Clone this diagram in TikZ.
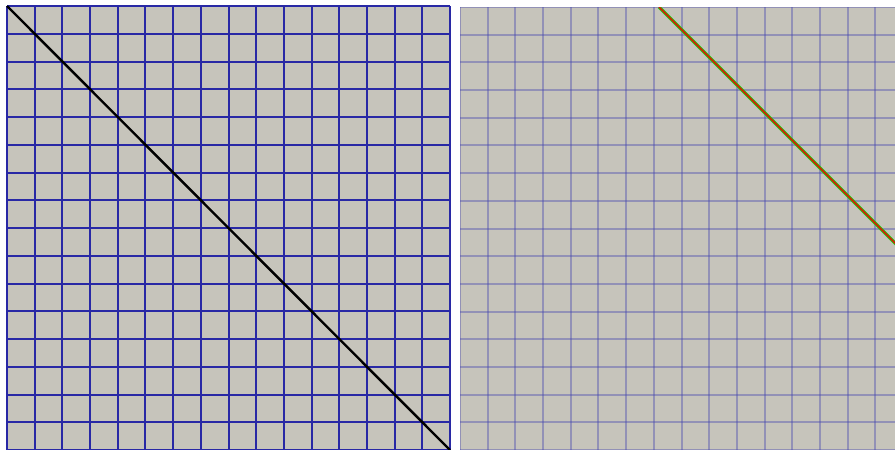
\documentclass[tikz,border=0pt]{standalone}
\definecolor{panelgray}{RGB}{198,196,187}
\definecolor{gridblue}{RGB}{40,40,165}
\definecolor{softblue}{RGB}{70,70,175}
\definecolor{linegreen}{RGB}{40,200,20}
\definecolor{linered}{RGB}{210,30,0}
\tikzset{
  leftgrid/.style={draw=gridblue,line width=1.5pt},
  rightgrid/.style={draw=softblue,line width=1.6pt,opacity=0.4},
  blackdiag/.style={draw=black,line width=2.4pt},
}
\begin{document}
\begin{tikzpicture}[x=1pt,y=-1pt]
\useasboundingbox (0,0) rectangle (895,450);
\fill[white] (0,0) rectangle (895,450);
% left panel
\fill[panelgray] (7,6) rectangle (450,450);
\foreach \i in {0,...,16} {
  \pgfmathsetmacro{\gx}{round(7+\i*27.6875)}
  \pgfmathsetmacro{\gy}{round(6+\i*27.75)}
  \draw[leftgrid] (\gx,6) -- (\gx,450);
  \draw[leftgrid] (7,\gy) -- (450,\gy);
}
\coordinate (la) at (7,6);
\coordinate (lb) at (450,450);
\draw[blackdiag] (la) -- (lb);
% right panel
\begin{scope}
\clip (460,7) rectangle (895,450);
\fill[panelgray] (460,7) rectangle (895,450);
\foreach \i in {0,...,16} {
  \pgfmathsetmacro{\gx}{round(460+\i*27.7)}
  \pgfmathsetmacro{\gy}{round(7+\i*27.7)}
  \draw[rightgrid] (\gx,7) -- (\gx,452);
  \draw[rightgrid] (460,\gy) -- (900,\gy);
}
\coordinate (ra) at (659,7);
\coordinate (rb) at (900,248);
\draw[draw=linegreen,line width=3.4pt] (ra) -- (rb);
\draw[draw=linered,line width=1.6pt] (ra) -- (rb);
\end{scope}
\end{tikzpicture}
\end{document}
